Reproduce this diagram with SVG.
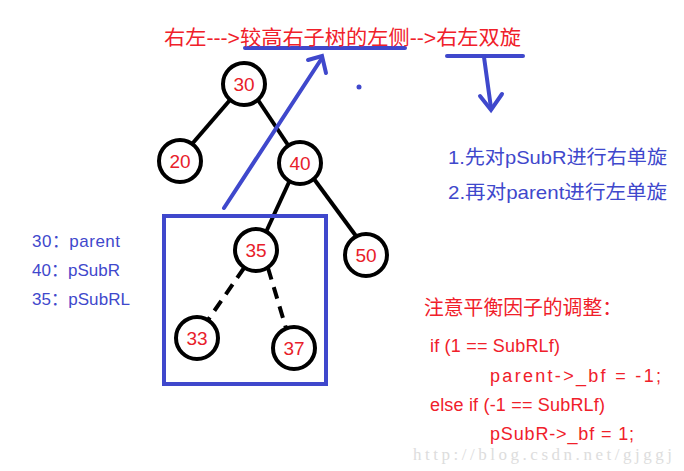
<svg xmlns="http://www.w3.org/2000/svg" width="684" height="471" viewBox="0 0 684 471">
<style>
.n circle{fill:#fff;stroke:#000;stroke-width:4}
.n text{font-family:"Liberation Sans",sans-serif;font-size:19px;fill:#e8202a;text-anchor:middle}
.e{stroke:#000;stroke-width:4;fill:none}
.b{stroke:#3f48cc;stroke-width:4;fill:none;stroke-linecap:round}
.r{font-family:"Liberation Sans","Noto Sans CJK SC",sans-serif;font-size:18px;fill:#f0202a}
.bl{font-family:"Liberation Sans","Noto Sans CJK SC",sans-serif;font-size:19px;fill:#3f48cc}
</style>
<rect width="684" height="471" fill="#fff"/>
<g id="connectors">
<line class="e" x1="230" y1="100" x2="192" y2="144"/>
<line class="e" x1="258" y1="100" x2="288" y2="145"/>
<line class="e" x1="290" y1="180" x2="266" y2="232"/>
<line class="e" x1="314" y1="179" x2="356" y2="236"/>
<line class="e" x1="244" y1="268" x2="208" y2="320" stroke-dasharray="12,8"/>
<line class="e" x1="268" y1="268" x2="286" y2="328" stroke-dasharray="12,8"/>
</g>
<g id="n30" class="n"><circle cx="244" cy="84" r="21"/><text x="244" y="91">30</text></g>
<g id="n20" class="n"><circle cx="180" cy="161" r="21"/><text x="180" y="168">20</text></g>
<g id="n40" class="n"><circle cx="300" cy="163" r="21"/><text x="300" y="170">40</text></g>
<g id="n35" class="n"><circle cx="256" cy="250" r="21"/><text x="256" y="257">35</text></g>
<g id="n50" class="n"><circle cx="366" cy="255" r="21"/><text x="366" y="262">50</text></g>
<g id="n33" class="n"><circle cx="197" cy="338" r="21"/><text x="197" y="345">33</text></g>
<g id="n37" class="n"><circle cx="294" cy="348" r="21"/><text x="294" y="355">37</text></g>
<g id="annotations">
<rect x="164" y="216" width="162" height="168" class="b" style="stroke-linecap:butt"/>
<line class="b" x1="224" y1="208" x2="322" y2="58"/>
<polyline class="b" points="308,60 322,56 326,73"/>
<line class="b" x1="245" y1="48" x2="405" y2="48"/>
<line class="b" x1="447" y1="56" x2="523" y2="56"/>
<line class="b" x1="484" y1="57" x2="491" y2="108"/>
<polyline class="b" points="480,96 491,110 502,94"/>
<circle cx="359" cy="87" r="2.5" fill="#3f48cc"/>
<text class="r" x="164" y="45" style="font-size:20px" textLength="357" lengthAdjust="spacingAndGlyphs">右左---&gt;较高右子树的左侧--&gt;右左双旋</text>
<text class="bl" x="448" y="164" textLength="219" lengthAdjust="spacingAndGlyphs">1.先对pSubR进行右单旋</text>
<text class="bl" x="448" y="199" textLength="219" lengthAdjust="spacingAndGlyphs">2.再对parent进行左单旋</text>
<text class="bl" x="32" y="247" style="font-size:17px" textLength="88">30：parent</text>
<text class="bl" x="32" y="276" style="font-size:17px" textLength="88">40：pSubR</text>
<text class="bl" x="32" y="305" style="font-size:17px" textLength="98">35：pSubRL</text>
<text class="r" x="424" y="315" style="font-size:20px" textLength="198" lengthAdjust="spacingAndGlyphs">注意平衡因子的调整：</text>
<text class="r" x="430" y="352" textLength="130">if (1 == SubRLf)</text>
<text class="r" x="490" y="382" textLength="171">parent-&gt;_bf = -1;</text>
<text class="r" x="430" y="411" textLength="175">else if (-1 == SubRLf)</text>
<text class="r" x="490" y="440" textLength="144">pSubR-&gt;_bf = 1;</text>
<text x="413" y="460" style="font-family:'Liberation Serif',serif;font-size:17px;fill:#ddd" textLength="259">http://blog.csdn.net/gjggj</text>
</g>
</svg>
